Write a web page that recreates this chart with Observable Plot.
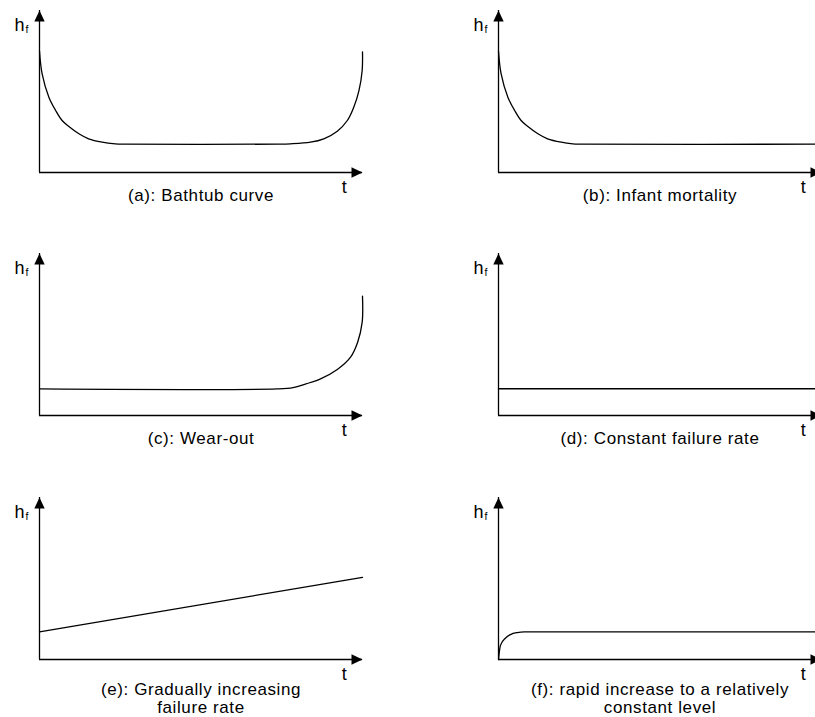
<!DOCTYPE html>
<html><head><meta charset="utf-8">
<script src="https://cdn.jsdelivr.net/npm/d3@7"></script>
<script src="https://cdn.jsdelivr.net/npm/@observablehq/plot@0.6"></script>
<style>
html,body{margin:0;padding:0;background:#fff;overflow:hidden;}
#chart{position:relative;width:815px;height:717px;overflow:hidden;background:#fff;}
.panel{position:absolute;width:420px;height:232px;}
.panel svg{max-width:none !important;}
.panel svg text{letter-spacing:0.6px;}
</style></head><body><div id="chart"></div>
<script>
// ---- data ----
const panelIds = ["a", "b", "c", "d", "e", "f"];
const captions = [
  "(a): Bathtub curve",
  "(b): Infant mortality",
  "(c): Wear-out",
  "(d): Constant failure rate",
  "(e): Gradually increasing\nfailure rate",
  "(f): rapid increase to a relatively\nconstant level"
];
const yLabel = "h";
const yLabelSub = "f";
const xLabel = "t";

// (a) bathtub curve
const curveA_t = [0, 0.08, 0.29, 0.50, 0.70, 0.91, 1.22, 1.52, 1.94, 2.35, 2.60, 7.36, 7.77, 8.39, 8.80, 9.22, 9.53, 9.73, 9.89, 9.99, 10];
const curveA_h = [7.5, 6.1, 4.65, 3.83, 3.21, 2.84, 2.39, 2.08, 1.87, 1.77, 1.75, 1.75, 1.77, 1.87, 2.08, 2.55, 3.21, 4.03, 5.06, 6.30, 7.45];
// (b) infant mortality
const curveB_t = [0, 0.08, 0.29, 0.50, 0.70, 0.91, 1.22, 1.52, 1.94, 2.30, 2.55, 10];
const curveB_h = [7.5, 6.1, 4.65, 3.83, 3.21, 2.84, 2.39, 2.08, 1.87, 1.77, 1.75, 1.75];
// (c) wear-out
const curveC_t = [0, 7.35, 7.85, 8.25, 8.70, 9.22, 9.63, 9.85, 9.99, 10];
const curveC_h = [1.64, 1.64, 1.72, 1.95, 2.26, 2.84, 3.60, 4.52, 5.76, 7.36];
// (d) constant failure rate
const curveD_t = [0, 10];
const curveD_h = [1.65, 1.65];
// (e) gradually increasing failure rate
const curveE_t = [0, 10];
const curveE_h = [1.70, 5.07];
// (f) rapid increase to a relatively constant level
const curveF_t = [0, 0.06, 0.22, 0.37, 0.58, 0.80, 10];
const curveF_h = [0, 0.87, 1.33, 1.54, 1.66, 1.70, 1.70];

const zip = (ts, hs) => ts.map((t, i) => ({t, h: hs[i]}));
const curves = {
  a: zip(curveA_t, curveA_h), b: zip(curveB_t, curveB_h), c: zip(curveC_t, curveC_h),
  d: zip(curveD_t, curveD_h), e: zip(curveE_t, curveE_h), f: zip(curveF_t, curveF_h)
};

// ---- styling ----
const FONT = '"Liberation Sans", Arial, Helvetica, sans-serif';
const AL = 11, AW = 5.2; // arrowhead length, half-width
const arrowUp = {draw(ctx) { ctx.moveTo(0, 0); ctx.lineTo(-AW, AL); ctx.lineTo(AW, AL); ctx.closePath(); }};
const arrowRight = {draw(ctx) { ctx.moveTo(0, 0); ctx.lineTo(-AL, -AW); ctx.lineTo(-AL, AW); ctx.closePath(); }};
const colLeft = [0, 459];
const rowTop = [0, 243, 487];
const SW = 1.3;

const chart = document.getElementById("chart");
panelIds.forEach((id, i) => {
  const col = i % 2, row = Math.floor(i / 2);
  const cap = captions[i];
  const twoLine = cap.includes("\n");
  const plot = Plot.plot({
    width: 420, height: 232,
    marginLeft: 39, marginRight: 58, marginTop: 10, marginBottom: 60,
    x: {domain: [0, 10], axis: null},
    y: {domain: [0, 10], axis: null},
    style: {fontFamily: FONT, background: "transparent", overflow: "visible", color: "#000", maxWidth: "none"},
    marks: [
      Plot.ruleX([0], {y1: 0, y2: 10, stroke: "#000", strokeWidth: SW}),
      Plot.ruleY([0], {x1: 0, x2: 10, stroke: "#000", strokeWidth: SW}),
      Plot.line(curves[id], {x: "t", y: "h", curve: id === "f" ? "monotone-x" : "catmull-rom", stroke: "#000", strokeWidth: SW}),
      Plot.dot([{t: 0, h: 10}], {x: "t", y: "h", symbol: arrowUp, fill: "#000"}),
      Plot.dot([{t: 10, h: 0}], {x: "t", y: "h", symbol: arrowRight, fill: "#000"}),
      Plot.text([{t: 0, h: 10}], {x: "t", y: "h", text: () => yLabel, textAnchor: "start", lineAnchor: "bottom",
        dx: -25, dy: 20, fontSize: 18, fill: "#000"}),
      Plot.text([{t: 0, h: 10}], {x: "t", y: "h", text: () => yLabelSub, textAnchor: "start", lineAnchor: "bottom",
        dx: -14, dy: 22.5, fontSize: 10.5, fill: "#000"}),
      Plot.text([{t: 10, h: 0}], {x: "t", y: "h", text: () => xLabel, textAnchor: "middle", lineAnchor: "bottom",
        dx: -18, dy: 20.5, fontSize: 18, fill: "#000"}),
      Plot.text([{t: 5, h: 0}], {x: "t", y: "h", text: () => cap, textAnchor: "middle", lineAnchor: "top",
        dy: twoLine ? 22 : 15, fontSize: 17, lineHeight: 1.08, fill: "#000"})
    ]
  });
  const wrap = document.createElement("div");
  wrap.className = "panel";
  wrap.style.left = colLeft[col] + "px";
  wrap.style.top = rowTop[row] + "px";
  wrap.appendChild(plot);
  chart.appendChild(wrap);
});
</script></body></html>
